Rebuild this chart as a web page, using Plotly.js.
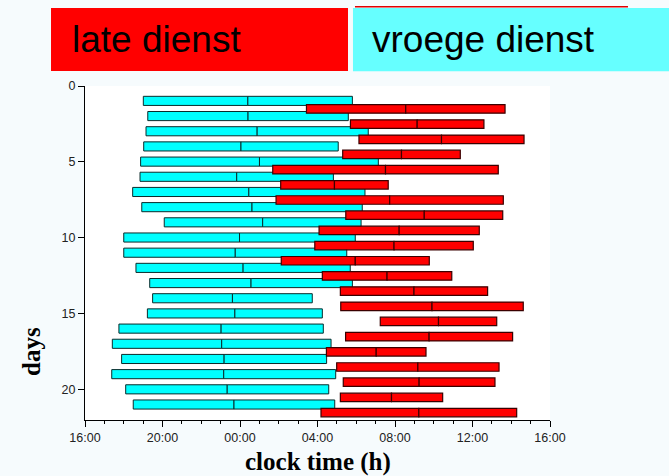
<!DOCTYPE html>
<html>
<head>
<meta charset="utf-8">
<script src="https://cdn.plot.ly/plotly-3.0.1.min.js"></script>
<style>html,body{margin:0;padding:0;background:#f6fbfd;}#chart{width:669px;height:476px;}</style>
</head>
<body>
<div id="chart"></div>
<script>
// day numbers
const days = [1,2,3,4,5,6,7,8,9,10,11,12,13,14,15,16,17,18,19,20,21];
// hours since 00:00 of the first day (values > 24 are the next day)
const vroegeStart = [19.01,19.24,19.15,19.03,18.87,18.84,18.46,18.93,20.09,18.00,18.00,18.63,19.34,19.49,19.22,17.75,17.41,17.89,17.38,18.10,18.49];
const vroegeEnd   = [29.80,29.59,30.62,29.07,31.14,28.82,30.45,30.31,30.25,29.95,29.51,29.69,29.80,27.73,28.25,28.30,28.70,28.47,28.94,28.58,28.89];
const lateStart   = [27.43,29.70,30.14,29.30,25.69,26.10,25.86,29.46,28.08,27.86,26.13,28.25,29.18,29.20,31.24,29.45,28.46,28.99,29.33,29.18,28.18];
const lateEnd     = [37.68,36.59,38.66,35.37,37.33,31.65,37.59,37.56,36.35,36.04,33.77,34.93,36.78,38.62,37.25,38.07,33.60,37.37,37.16,34.46,38.28];
const xTickVals = [16,20,24,28,32,36,40];
const xTickText = ['16:00','20:00','00:00','04:00','08:00','12:00','16:00'];
const yTickVals = [0,5,10,15,20];
const legendLabels = ['late dienst','vroege dienst'];

function halves(starts, ends){
  const half = starts.map((s,i)=> (ends[i]-s)/2);
  const mid = starts.map((s,i)=> s + half[i]);
  return {half, mid};
}
const v = halves(vroegeStart, vroegeEnd);
const l = halves(lateStart, lateEnd);

const cyanStyle = {color:'#00ffff', line:{color:'#0b2b2b', width:1}};
const redStyle = {color:'#ff0000', line:{color:'#3a0000', width:1.2}};

const traces = [
  {type:'bar', orientation:'h', y:days, base:vroegeStart, x:v.half, width:0.6, offset:-0.32, marker:cyanStyle, hoverinfo:'skip'},
  {type:'bar', orientation:'h', y:days, base:v.mid, x:v.half, width:0.6, offset:-0.32, marker:cyanStyle, hoverinfo:'skip'},
  {type:'bar', orientation:'h', y:days, base:lateStart, x:l.half, width:0.56, offset:0.23, marker:redStyle, hoverinfo:'skip'},
  {type:'bar', orientation:'h', y:days, base:l.mid, x:l.half, width:0.56, offset:0.23, marker:redStyle, hoverinfo:'skip'}
];

const layout = {
  width:669, height:476,
  margin:{l:85, r:119, t:86, b:56},
  paper_bgcolor:'#f6fbfd',
  plot_bgcolor:'#ffffff',
  barmode:'overlay',
  showlegend:false,
  font:{family:'Liberation Sans, Arial, sans-serif', size:12.5, color:'#222'},
  xaxis:{
    range:[16,40], tickvals:xTickVals, ticktext:xTickText,
    showgrid:false, zeroline:false, showline:true, linecolor:'#000', linewidth:1,
    ticks:'outside', ticklen:6, tickcolor:'#000',
    minor:{dtick:1, ticks:'outside', ticklen:3, tickcolor:'#000', showgrid:false},
    tickfont:{size:12.5, color:'#222'}
  },
  yaxis:{
    range:[22,0], tickvals:yTickVals,
    showgrid:false, zeroline:false, showline:true, linecolor:'#000', linewidth:1,
    ticks:'outside', ticklen:6, tickcolor:'#000',
    tickfont:{size:12.5, color:'#222'}
  },
  shapes:[
    {type:'rect', xref:'paper', yref:'paper', x0:-0.0731, x1:0.5656, y0:1.0449, y1:1.2335, fillcolor:'#ff0000', line:{width:0}},
    {type:'rect', xref:'paper', yref:'paper', x0:0.5763, x1:1.26, y0:1.0440, y1:1.2335, fillcolor:'#66ffff', line:{width:0}},
    {type:'line', xref:'paper', yref:'paper', x0:0.5806, x1:1.1677, y0:1.2375, y1:1.2375, line:{color:'#e00000', width:1.5}}
  ],
  annotations:[
    {text:legendLabels[0], xref:'paper', yref:'paper', x:-0.0323, y:1.1407, xanchor:'left', yanchor:'middle', showarrow:false,
     font:{family:'Liberation Sans, Arial, sans-serif', size:37, color:'#000'}},
    {text:legendLabels[1], xref:'paper', yref:'paper', x:0.6129, y:1.1407, xanchor:'left', yanchor:'middle', showarrow:false,
     font:{family:'Liberation Sans, Arial, sans-serif', size:37, color:'#000'}},
    {text:'<b>days</b>', xref:'paper', yref:'paper', x:-0.114, y:0.2066, xanchor:'center', yanchor:'middle', textangle:-90, showarrow:false,
     font:{family:'Liberation Serif, Times New Roman, serif', size:25, color:'#000'}},
    {text:'<b>clock time (h)</b>', xref:'paper', yref:'paper', x:0.5, y:-0.1257, xanchor:'center', yanchor:'middle', showarrow:false,
     font:{family:'Liberation Serif, Times New Roman, serif', size:25, color:'#000'}}
  ]
};

Plotly.newPlot('chart', traces, layout, {displayModeBar:false, staticPlot:true});
</script>
</body>
</html>
